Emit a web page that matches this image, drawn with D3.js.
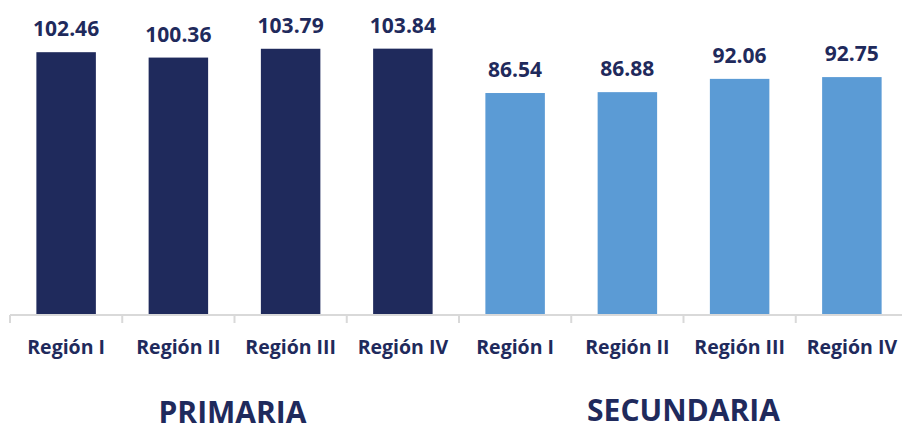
<!DOCTYPE html>
<html lang="es">
<head>
  <meta charset="utf-8">
  <script src="https://d3js.org/d3.v7.min.js"></script>
  <style>
    body { margin: 0; background: #fff; }
    svg text {
      font-family: "Open Sans", sans-serif;
      font-weight: bold;
      fill: #1f2a5c;
      text-anchor: middle;
    }
  </style>
</head>
<body>
<script>
  var regions = ["Región I", "Región II", "Región III", "Región IV"];
  var groups = ["PRIMARIA", "SECUNDARIA"];
  var primaria = [102.46, 100.36, 103.79, 103.84];
  var secundaria = [86.54, 86.88, 92.06, 92.75];
  var colors = ["#1f2a5c", "#5b9bd5"];

  var width = 902, height = 431;
  var svg = d3.select("body").append("svg").attr("width", width).attr("height", height);

  // one row per bar, key keeps duplicate region names apart
  var rows = [];
  [primaria, secundaria].forEach(function(vals, g) {
    vals.forEach(function(v, i) {
      rows.push({ key: g + "-" + i, region: regions[i], group: g, value: v });
    });
  });

  var x = d3.scaleBand().domain(rows.map(function(d) { return d.key; }))
    .range([10, 908]).paddingInner(0.47).paddingOuter(0.235);
  var y = d3.scaleLinear().domain([0, 120]).range([315, 7.2]);
  var step = x.step(), bw = x.bandwidth(), gap = (step - bw) / 2;

  svg.selectAll("rect.bar").data(rows).enter().append("rect")
    .attr("class", "bar")
    .attr("x", function(d) { return x(d.key); })
    .attr("y", function(d) { return y(d.value); })
    .attr("width", bw)
    .attr("height", function(d) { return y(0) - y(d.value); })
    .attr("fill", function(d) { return colors[d.group]; });

  // axis line and ticks at band edges
  svg.append("line")
    .attr("x1", x.range()[0]).attr("x2", x.range()[1])
    .attr("y1", y(0)).attr("y2", y(0))
    .attr("stroke", "#d9d9d9").attr("stroke-width", 2);
  var edges = rows.map(function(d) { return x(d.key) - gap; }).concat([x.range()[1]]);
  svg.selectAll("line.tick").data(edges).enter().append("line")
    .attr("class", "tick")
    .attr("x1", function(d) { return d; }).attr("x2", function(d) { return d; })
    .attr("y1", y(0)).attr("y2", y(0) + 8)
    .attr("stroke", "#d9d9d9").attr("stroke-width", 2);

  svg.selectAll("text.val").data(rows).enter().append("text")
    .attr("class", "val")
    .attr("x", function(d) { return x(d.key) + bw / 2; })
    .attr("y", function(d) { return y(d.value) - 16; })
    .style("font-size", "21px")
    .text(function(d) { return d.value.toFixed(2); });

  svg.selectAll("text.cat").data(rows).enter().append("text")
    .attr("class", "cat")
    .attr("x", function(d) { return x(d.key) + bw / 2; })
    .attr("y", 354)
    .style("font-size", "19.5px")
    .text(function(d) { return d.region; });

  svg.selectAll("text.grp").data(groups).enter().append("text")
    .attr("class", "grp")
    .attr("x", function(d, g) {
      var first = x(g + "-0") - gap, last = x(g + "-3") + bw + gap;
      return (first + last) / 2 - (g === 0 ? 2 : 0);
    })
    .attr("y", function(d, g) { return g === 0 ? 423 : 421; })
    .style("font-size", "30px")
    .text(function(d) { return d; });
</script>
</body>
</html>
